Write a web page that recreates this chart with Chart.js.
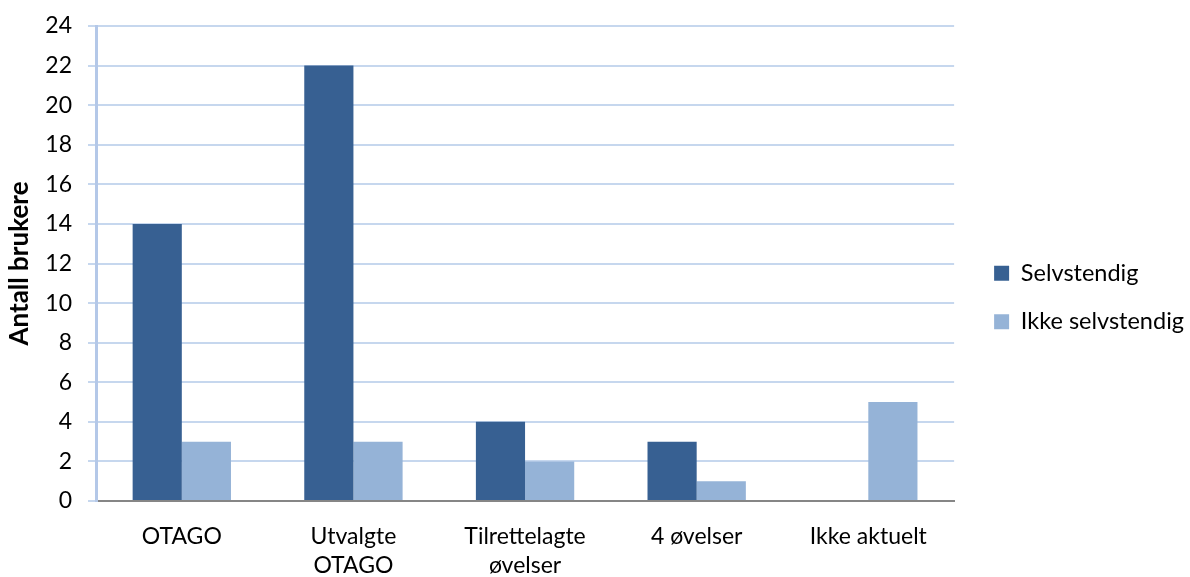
<!DOCTYPE html>
<html>
<head>
<meta charset="utf-8">
<script src="https://cdn.jsdelivr.net/npm/chart.js@4/dist/chart.umd.min.js"></script>
<style>
  html, body { margin: 0; padding: 0; background: #fff; }
  #wrap { width: 1190px; height: 577px; }
</style>
</head>
<body>
<div id="wrap"><canvas id="chart" width="1190" height="577"></canvas></div>
<script>
// values
const categories = ['OTAGO', ['Utvalgte', 'OTAGO'], ['Tilrettelagte', 'øvelser'], '4 øvelser', 'Ikke aktuelt'];
const selvstendig = [14, 22, 4, 3, 0];
const ikkeSelvstendig = [3, 3, 2, 1, 5];
const yTicks = [0, 2, 4, 6, 8, 10, 12, 14, 16, 18, 20, 22, 24];

const font = 'Lato, "Open Sans", sans-serif';

// legend sits further right of the plot than chart.js would put it
const legendGap = {
    id: 'legendGap',
    beforeInit(chart) {
        const leg = chart.legend;
        const fit = leg.fit;
        leg.fit = function () { fit.call(this); this.width += 9; };
        const draw = leg.draw;
        leg.draw = function (area) {
            const c = this.ctx;
            c.save();
            c.translate(15, -4);
            draw.call(this, area);
            c.restore();
        };
    }
};

const ctx = document.getElementById('chart').getContext('2d');
new Chart(ctx, {
    type: 'bar',
    data: {
        labels: categories,
        datasets: [{
            label: 'Selvstendig',
            data: selvstendig,
            backgroundColor: '#376092',
            borderWidth: 0
        },
        {
            label: 'Ikke selvstendig',
            data: ikkeSelvstendig,
            backgroundColor: '#95b3d7',
            borderWidth: 0
        }]
    },
    options: {
        responsive: false,
        animation: false,
        layout: { padding: { left: 4, top: 26, bottom: 0, right: 2 } },
        datasets: {
            bar: { categoryPercentage: 0.573, barPercentage: 1 }
        },
        scales: {
            x: {
                afterFit(scale) { scale.height = 76; },
                grid: { display: false, drawTicks: false },
                border: { display: true, color: '#868686', width: 2 },
                ticks: {
                    color: '#000',
                    padding: 22,
                    maxRotation: 0,
                    autoSkip: false,
                    font: { family: font, size: 23, lineHeight: 1.22 }
                }
            },
            y: {
                min: 0,
                max: 24,
                afterBuildTicks(axis) { axis.ticks = yTicks.map(v => ({ value: v })); },
                afterFit(scale) { scale.width = 92; scale.paddingTop = 0; },
                grid: { color: '#c6d7ee', lineWidth: 2, tickLength: 8, tickColor: '#c6d7ee' },
                border: { color: '#b4c8e8', width: 3 },
                ticks: {
                    color: '#000',
                    padding: 16,
                    font: { family: font, size: 23 }
                },
                title: {
                    display: true,
                    text: 'Antall brukere',
                    color: '#000',
                    padding: { top: 0, bottom: 10 },
                    font: { family: font, size: 26, weight: 'bold' }
                }
            }
        },
        plugins: {
            legend: {
                position: 'right',
                align: 'center',
                labels: {
                    color: '#000',
                    boxWidth: 15,
                    boxHeight: 15,
                    padding: 25,
                    font: { family: font, size: 23.5 }
                }
            },
            tooltip: { enabled: false }
        }
    },
    plugins: [legendGap]
});
</script>
</body>
</html>
